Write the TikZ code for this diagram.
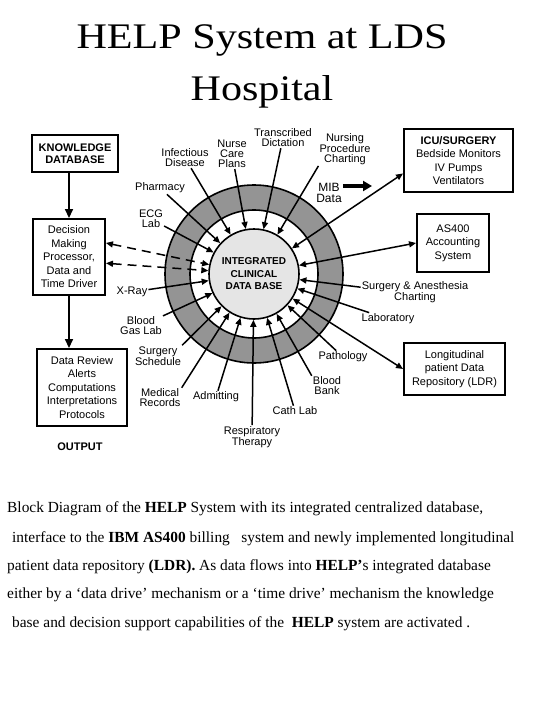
\documentclass[tikz,border=0pt]{standalone}
\usepackage{graphicx}
\usepackage{fontspec}
\setmainfont{Liberation Serif}
\newfontfamily\sansf{Liberation Sans}
\usetikzlibrary{arrows.meta,calc}
\definecolor{ringgray}{gray}{0.58}
\definecolor{dbfill}{gray}{0.9}
\begin{document}
\begin{tikzpicture}[x=1pt,y=-1pt,
 lbl/.style={font=\sansf\fontsize{11}{10}\selectfont, align=center, inner sep=1pt},
 boxn/.style={draw, line width=1.9pt, align=center, inner sep=2pt, font=\sansf\fontsize{11}{13.5}\selectfont},
 conn/.style={line width=1.5pt, -{Triangle[length=7pt,width=6pt]}},
 dconn/.style={line width=1.5pt, {Triangle[length=7pt,width=6pt]}-{Triangle[length=7pt,width=6pt]}},
 dashconn/.style={dconn, dash pattern=on 9pt off 6pt},
 vconn/.style={line width=1.6pt, -{Triangle[length=9pt,width=8pt]}},
 mibarrow/.style={line width=3.5pt, -{Triangle[length=9pt,width=10pt]}},
 captxt/.style={anchor=base west, inner sep=0pt, font=\fontsize{15.4}{16}\selectfont},
 ttl/.style={anchor=base, inner sep=0pt, font=\fontsize{36}{40}\selectfont}
]
\useasboundingbox (0,0) rectangle (540,720);

% title
\node[ttl] (t1) at (262,48) {\scalebox{1.17}[1]{HELP System at LDS}};
\node[ttl] (t2) at (262,100) {\scalebox{1.17}[1]{Hospital}};

% rings
\coordinate (c) at (254,274);
\fill[ringgray] (c) circle[radius=89];
\fill[white] (c) circle[radius=64];
\draw[line width=1.6pt] (c) circle[radius=89] (c) circle[radius=64];
\node[circle, draw, line width=1.6pt, fill=dbfill, minimum size=90pt, inner sep=0pt, align=center,
      font=\sansf\bfseries\fontsize{10}{12.5}\selectfont] (db) at (c) {INTEGRATED\\CLINICAL\\DATA BASE};

% boxes
\node[boxn, font=\sansf\bfseries\fontsize{11}{12}\selectfont, minimum width=86pt, minimum height=37pt] (kd) at (75,153.5) {KNOWLEDGE\\DATABASE};
\node[boxn, minimum width=72pt, minimum height=76pt] (dec) at (69,257) {Decision\\Making\\Processor,\\Data and\\Time Driver};
\node[boxn, minimum width=90pt, minimum height=77pt] (dr) at (82,387.5) {Data Review\\Alerts\\Computations\\Interpretations\\Protocols};
\node[lbl, font=\sansf\bfseries\fontsize{11}{12}\selectfont] (out) at (80,447) {OUTPUT};
\node[boxn, minimum width=109pt, minimum height=63pt] (icu) at (458.5,160.5) {\textbf{ICU/SURGERY}\\Bedside Monitors\\IV Pumps\\Ventilators};
\node[boxn, minimum width=72pt, minimum height=58pt] (as400) at (453,243) {AS400\\Accounting\\System};
\node[boxn, minimum width=101pt, minimum height=52pt] (ldr) at (454.5,369) {Longitudinal\\patient Data\\Repository (LDR)};

% labels
\node[lbl] (inf) at (185,158) {Infectious\\Disease};
\node[lbl] (nurse) at (232,154) {Nurse\\Care\\Plans};
\node[lbl] (trans) at (283,138) {Transcribed\\Dictation};
\node[lbl] (nursing) at (345,149) {Nursing\\Procedure\\Charting};
\node[lbl, font=\sansf\fontsize{12}{11}\selectfont] (mib) at (329,193) {MIB\\Data};
\node[lbl] (pharm) at (160,188) {Pharmacy};
\node[lbl] (ecg) at (151,219) {ECG\\Lab};
\node[lbl] (xray) at (132,292) {X-Ray};
\node[lbl] (bgas) at (141,326) {Blood\\Gas Lab};
\node[lbl] (ssched) at (158,356) {Surgery\\Schedule};
\node[lbl] (medrec) at (160,398) {Medical\\Records};
\node[lbl] (admit) at (216,397) {Admitting};
\node[lbl] (resp) at (252,437) {Respiratory\\Therapy};
\node[lbl] (cath) at (295,411) {Cath Lab};
\node[lbl] (bbank) at (327,386) {Blood\\Bank};
\node[lbl] (path) at (343,357) {Pathology};
\node[lbl] (lab) at (388,319) {Laboratory};
\node[lbl] (surg) at (415,292) {Surgery \& Anesthesia\\Charting};

% incoming connectors
\draw[conn] (inf) -- (db);
\draw[conn] (nurse) -- (db);
\draw[conn] (trans) -- (db);
\draw[conn] (nursing.south west) -- (db);
\draw[conn] (pharm) -- (db);
\draw[conn] (ecg) -- (db);
\draw[conn] (xray) -- (db);
\draw[conn] (bgas) -- (db);
\draw[conn] (ssched.north east) -- (db);
\draw[conn] (medrec.north east) -- (db);
\draw[conn] (admit) -- (db);
\draw[conn] (resp) -- (db);
\draw[conn] (cath) -- (db);
\draw[conn] (bbank.north west) -- (db);
\draw[conn] (path) -- (db);
\draw[conn] (lab) -- (db);
\draw[conn] ($(surg.north west)!0.3!(surg.south west)$) -- (db);

% two-way connectors
\draw[dconn] (db) -- ($(icu.south west)!0.3!(icu.north west)$);
\draw[dconn] (db) -- (as400.west);
\draw[dconn] (db) -- (ldr.west);
\draw[dashconn] ($(dec.north east)!0.32!(dec.south east)$) -- (db);
\draw[dashconn] ($(dec.north east)!0.58!(dec.south east)$) -- (db);

% vertical flow
\draw[vconn] (kd.south -| dec.north) -- (dec.north);
\draw[vconn] (dec.south) -- (dr.north -| dec.south);

% MIB arrow
\coordinate (mibtip) at (372,186);
\draw[mibarrow] (mib.east |- mibtip) -- (mibtip);

% caption
\node[captxt] (c1) at (7,512) {Block Diagram of the \textbf{HELP} System with its integrated centralized database,};
\node[captxt] (c2) at (12,542) {interface to the \textbf{IBM AS400} billing\ \ \ system and newly implemented longitudinal};
\node[captxt] (c3) at (7,570) {patient data repository \textbf{(LDR).} As data flows into \textbf{HELP'}s integrated database};
\node[captxt] (c4) at (7,598) {either by a `data drive' mechanism or a `time drive' mechanism the knowledge};
\node[captxt] (c5) at (12,627) {base and decision support capabilities of the\ \ \textbf{HELP} system are activated .};
\end{tikzpicture}
\end{document}
